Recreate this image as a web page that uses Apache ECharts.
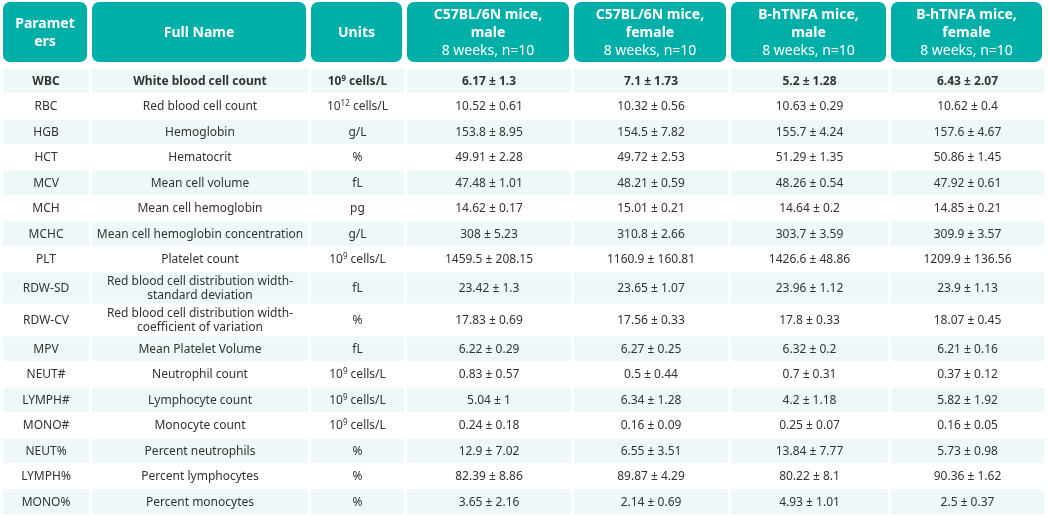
<!DOCTYPE html>
<html><head><meta charset="utf-8">
<script src="https://cdn.jsdelivr.net/npm/echarts@6/dist/echarts.min.js"></script>
<style>html,body{margin:0;padding:0;background:#fff}#main{width:1049px;height:516px}</style>
</head><body><div id="main"></div>
<script>
var headers = [
    ["Paramet", "ers"], ["Full Name"], ["Units"],
    ["C57BL/6N mice,", "male", "8 weeks, n=10"],
    ["C57BL/6N mice,", "female", "8 weeks, n=10"],
    ["B-hTNFA mice,", "male", "8 weeks, n=10"],
    ["B-hTNFA mice,", "female", "8 weeks, n=10"]
];
var params = ["WBC","RBC","HGB","HCT","MCV","MCH","MCHC","PLT","RDW-SD","RDW-CV","MPV","NEUT#","LYMPH#","MONO#","NEUT%","LYMPH%","MONO%"];
var fullNames = ["White blood cell count","Red blood cell count","Hemoglobin","Hematocrit","Mean cell volume","Mean cell hemoglobin","Mean cell hemoglobin concentration","Platelet count","Red blood cell distribution width-\nstandard deviation","Red blood cell distribution width-\ncoefficient of variation","Mean Platelet Volume","Neutrophil count","Lymphocyte count","Monocyte count","Percent neutrophils","Percent lymphocytes","Percent monocytes"];
var units = ["10^9 cells/L","10^12 cells/L","g/L","%","fL","pg","g/L","10^9 cells/L","fL","%","fL","10^9 cells/L","10^9 cells/L","10^9 cells/L","%","%","%"];
var c57Male = ["6.17 ± 1.3","10.52 ± 0.61","153.8 ± 8.95","49.91 ± 2.28","47.48 ± 1.01","14.62 ± 0.17","308 ± 5.23","1459.5 ± 208.15","23.42 ± 1.3","17.83 ± 0.69","6.22 ± 0.29","0.83 ± 0.57","5.04 ± 1","0.24 ± 0.18","12.9 ± 7.02","82.39 ± 8.86","3.65 ± 2.16"];
var c57Female = ["7.1 ± 1.73","10.32 ± 0.56","154.5 ± 7.82","49.72 ± 2.53","48.21 ± 0.59","15.01 ± 0.21","310.8 ± 2.66","1160.9 ± 160.81","23.65 ± 1.07","17.56 ± 0.33","6.27 ± 0.25","0.5 ± 0.44","6.34 ± 1.28","0.16 ± 0.09","6.55 ± 3.51","89.87 ± 4.29","2.14 ± 0.69"];
var tnfMale = ["5.2 ± 1.28","10.63 ± 0.29","155.7 ± 4.24","51.29 ± 1.35","48.26 ± 0.54","14.64 ± 0.2","303.7 ± 3.59","1426.6 ± 48.86","23.96 ± 1.12","17.8 ± 0.33","6.32 ± 0.2","0.7 ± 0.31","4.2 ± 1.18","0.25 ± 0.07","13.84 ± 7.77","80.22 ± 8.1","4.93 ± 1.01"];
var tnfFemale = ["6.43 ± 2.07","10.62 ± 0.4","157.6 ± 4.67","50.86 ± 1.45","47.92 ± 0.61","14.85 ± 0.21","309.9 ± 3.57","1209.9 ± 136.56","23.9 ± 1.13","18.07 ± 0.45","6.21 ± 0.16","0.37 ± 0.12","5.82 ± 1.92","0.16 ± 0.05","5.73 ± 0.98","90.36 ± 1.62","2.5 ± 0.37"];

var colX = [3, 92, 311, 407, 574, 731, 891, 1047];
var rowH = [25.5,25.5,25.5,25.5,25.5,25.5,25.5,25.5,32,32,25.5,25.5,25.5,25.5,25.5,25.5,25.5];
var FONT = '"Noto Sans", sans-serif';
var teal = '#00b0a8';

var g = [];
for (var c = 0; c < 7; c++) {
    var x0 = colX[c], w = colX[c + 1] - colX[c] - 5;
    g.push({type: 'rect', shape: {x: x0, y: 2, width: w, height: 60, r: 7}, style: {fill: teal}});
    var h = headers[c];
    var txt, rich = {b: {fontWeight: 'bold', fontSize: 14, lineHeight: 18, fill: '#fff', fontFamily: FONT},
                     n: {fontSize: 14, lineHeight: 18, fill: '#fff', fontFamily: FONT}};
    if (h.length === 3) txt = '{b|' + h[0] + '}\n{b|' + h[1] + '}\n{n|' + h[2] + '}';
    else txt = h.map(function (s) { return '{b|' + s + '}'; }).join('\n');
    g.push({type: 'text', x: x0 + w / 2, y: 33, style: {text: txt, rich: rich, align: 'center', verticalAlign: 'middle'}});
}

var cols = [params, fullNames, units, c57Male, c57Female, tnfMale, tnfFemale];
var y = 68.5;
for (var r = 0; r < params.length; r++) {
    var bold = r === 0;
    for (var c = 0; c < 7; c++) {
        var x0 = colX[c], w = colX[c + 1] - colX[c] - 3;
        if (r % 2 === 0) g.push({type: 'rect', shape: {x: x0, y: y, width: w, height: rowH[r] - 1}, style: {fill: '#eef8f8'}});
        var v = cols[c][r];
        var base = {fontSize: 12, fill: '#333', fontFamily: FONT, fontWeight: bold ? 'bold' : 'normal', lineHeight: 14};
        var style = {align: 'center', verticalAlign: 'middle'};
        if (c === 2 && v.indexOf('^') > 0) {
            var m = v.match(/^10\^(\d+) (.*)$/);
            style.text = '{t|10}{s|' + m[1] + '}{t| ' + m[2] + '}';
            style.rich = {t: base, s: Object.assign({}, base, {fontSize: 8, verticalAlign: 'top', padding: [0, 0, 6, 0]})};
        } else {
            style.text = v;
            Object.assign(style, base);
        }
        g.push({type: 'text', x: x0 + w / 2, y: y + rowH[r] / 2, style: style});
    }
    y += rowH[r];
}

var chart = echarts.init(document.getElementById('main'));
chart.setOption({animation: false, graphic: {elements: g}});
</script></body></html>
